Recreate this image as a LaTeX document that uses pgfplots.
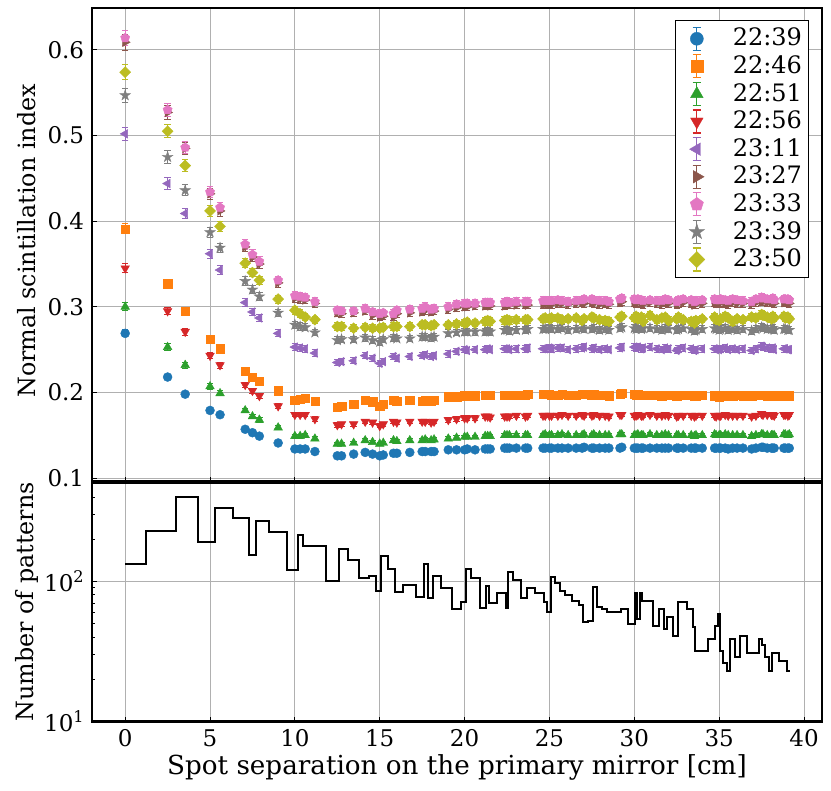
\documentclass[border=0pt]{standalone}
\usepackage{fontspec}
\setmainfont{DejaVu Serif}
\usepackage{pgfplots}
\pgfplotsset{compat=1.18}
\usepackage{pgfplotstable}
\usetikzlibrary{plotmarks}

\definecolor{cB}{HTML}{1F77B4}
\definecolor{cO}{HTML}{FF7F0E}
\definecolor{cG}{HTML}{2CA02C}
\definecolor{cR}{HTML}{D62728}
\definecolor{cP}{HTML}{9467BD}
\definecolor{cBr}{HTML}{8C564B}
\definecolor{cPk}{HTML}{E377C2}
\definecolor{cGr}{HTML}{7F7F7F}
\definecolor{cOl}{HTML}{BCBD22}
\definecolor{gridc}{HTML}{B0B0B0}

\newcommand\ff{\fontsize{23bp}{27bp}\selectfont}
\newcommand\fx{\fontsize{26.2bp}{31bp}\selectfont}
\newcommand\fy{\fontsize{23.8bp}{28bp}\selectfont}
\newcommand\fg{\fontsize{24bp}{28bp}\selectfont}

\pgfdeclareplotmark{fstar}{%
  \pgfpathmoveto{\pgfpointpolar{90}{\pgfplotmarksize}}%
  \pgfpathlineto{\pgfpointpolar{126}{0.382\pgfplotmarksize}}%
  \pgfpathlineto{\pgfpointpolar{162}{\pgfplotmarksize}}%
  \pgfpathlineto{\pgfpointpolar{198}{0.382\pgfplotmarksize}}%
  \pgfpathlineto{\pgfpointpolar{234}{\pgfplotmarksize}}%
  \pgfpathlineto{\pgfpointpolar{270}{0.382\pgfplotmarksize}}%
  \pgfpathlineto{\pgfpointpolar{306}{\pgfplotmarksize}}%
  \pgfpathlineto{\pgfpointpolar{342}{0.382\pgfplotmarksize}}%
  \pgfpathlineto{\pgfpointpolar{18}{\pgfplotmarksize}}%
  \pgfpathlineto{\pgfpointpolar{54}{0.382\pgfplotmarksize}}%
  \pgfpathclose\pgfusepathqfillstroke}

\pgfplotstableread{
x cnt b o g r p br pk gr ol
0.000 134 0.269 0.391 0.300 0.345 0.502 0.609 0.614 0.547 0.574
2.500 229 0.218 0.327 0.253 0.295 0.444 0.527 0.530 0.475 0.505
3.536 402 0.198 0.295 0.232 0.271 0.409 0.485 0.486 0.436 0.465
5.000 190 0.179 0.262 0.207 0.243 0.362 0.432 0.434 0.387 0.412
5.590 335 0.174 0.251 0.199 0.232 0.343 0.412 0.416 0.369 0.394
7.071 284 0.157 0.225 0.179 0.209 0.305 0.370 0.373 0.330 0.351
7.500 154 0.153 0.218 0.172 0.202 0.294 0.358 0.361 0.320 0.340
7.906 270 0.149 0.213 0.168 0.196 0.287 0.350 0.353 0.312 0.331
9.014 227 0.141 0.202 0.159 0.184 0.269 0.328 0.331 0.293 0.309
10.000 121 0.134 0.191 0.149 0.174 0.253 0.310 0.313 0.279 0.296
10.308 214 0.134 0.192 0.149 0.174 0.252 0.309 0.312 0.277 0.292
10.607 180 0.134 0.193 0.150 0.174 0.251 0.308 0.311 0.276 0.288
11.180 180 0.131 0.190 0.146 0.169 0.246 0.304 0.306 0.270 0.285
12.500 100 0.126 0.183 0.140 0.162 0.235 0.293 0.296 0.261 0.277
12.748 170 0.126 0.184 0.140 0.163 0.236 0.292 0.295 0.262 0.277
13.463 143 0.128 0.186 0.141 0.163 0.237 0.293 0.295 0.262 0.275
14.142 106 0.130 0.191 0.144 0.166 0.243 0.295 0.298 0.264 0.276
14.577 109 0.128 0.189 0.142 0.165 0.240 0.290 0.294 0.261 0.275
15.000 85 0.126 0.184 0.140 0.161 0.234 0.288 0.292 0.259 0.275
15.207 151 0.127 0.186 0.141 0.163 0.236 0.289 0.293 0.262 0.276
15.811 122 0.129 0.191 0.144 0.166 0.242 0.288 0.292 0.264 0.277
16.008 84 0.129 0.190 0.143 0.165 0.240 0.292 0.296 0.263 0.277
16.771 95 0.130 0.191 0.144 0.166 0.242 0.293 0.297 0.263 0.277
17.500 78 0.131 0.190 0.144 0.166 0.243 0.294 0.298 0.265 0.279
17.678 134 0.131 0.191 0.145 0.166 0.244 0.296 0.300 0.265 0.279
18.028 76 0.131 0.190 0.144 0.165 0.242 0.294 0.297 0.264 0.278
18.200 110 0.131 0.191 0.145 0.166 0.243 0.295 0.298 0.265 0.279
19.039 90 0.133 0.195 0.146 0.168 0.245 0.297 0.300 0.269 0.279
19.526 64 0.133 0.195 0.147 0.169 0.248 0.299 0.303 0.270 0.280
20.000 71 0.133 0.196 0.148 0.170 0.250 0.300 0.304 0.271 0.281
20.156 123 0.134 0.196 0.148 0.170 0.249 0.300 0.304 0.271 0.282
20.616 105 0.133 0.196 0.148 0.170 0.250 0.301 0.304 0.271 0.281
21.213 65 0.134 0.197 0.149 0.172 0.250 0.301 0.305 0.271 0.283
21.360 92 0.134 0.197 0.149 0.172 0.251 0.302 0.305 0.272 0.284
21.506 70 0.134 0.197 0.149 0.171 0.250 0.301 0.305 0.271 0.283
22.361 82 0.135 0.197 0.150 0.172 0.251 0.301 0.305 0.273 0.284
22.500 65 0.135 0.197 0.150 0.172 0.251 0.302 0.306 0.273 0.285
22.638 117 0.135 0.197 0.150 0.172 0.250 0.302 0.305 0.272 0.284
23.049 103 0.135 0.197 0.150 0.173 0.251 0.302 0.306 0.273 0.285
23.585 76 0.135 0.197 0.150 0.172 0.251 0.303 0.306 0.273 0.285
23.717 89 0.135 0.198 0.150 0.173 0.252 0.302 0.306 0.274 0.285
24.622 82 0.135 0.198 0.150 0.173 0.251 0.303 0.307 0.274 0.286
24.749 71 0.135 0.198 0.151 0.173 0.251 0.303 0.307 0.274 0.287
25.000 60 0.135 0.198 0.150 0.173 0.252 0.304 0.307 0.275 0.286
25.125 108 0.135 0.197 0.150 0.173 0.251 0.303 0.307 0.274 0.287
25.495 97 0.135 0.197 0.150 0.173 0.252 0.304 0.308 0.274 0.287
25.739 85 0.135 0.198 0.151 0.174 0.252 0.304 0.307 0.275 0.285
26.101 80 0.135 0.197 0.150 0.173 0.250 0.303 0.306 0.273 0.286
26.575 72 0.135 0.197 0.150 0.173 0.251 0.304 0.307 0.274 0.287
26.926 68 0.135 0.198 0.150 0.174 0.252 0.305 0.308 0.275 0.284
27.042 51 0.136 0.198 0.151 0.173 0.253 0.304 0.309 0.274 0.286
27.500 52 0.135 0.197 0.150 0.173 0.251 0.305 0.309 0.274 0.288
27.613 91 0.135 0.198 0.151 0.174 0.252 0.304 0.308 0.275 0.287
27.951 66 0.135 0.197 0.150 0.173 0.250 0.303 0.307 0.273 0.285
28.284 64 0.135 0.197 0.150 0.173 0.251 0.304 0.307 0.274 0.284
28.504 60 0.135 0.196 0.150 0.172 0.250 0.303 0.306 0.273 0.283
29.155 60 0.135 0.198 0.151 0.174 0.252 0.305 0.309 0.275 0.288
29.262 64 0.136 0.199 0.151 0.174 0.253 0.306 0.310 0.276 0.289
30.000 50 0.135 0.198 0.150 0.173 0.253 0.305 0.309 0.275 0.287
30.104 82 0.135 0.197 0.150 0.173 0.252 0.304 0.308 0.274 0.289
30.208 54 0.135 0.198 0.151 0.174 0.253 0.305 0.309 0.276 0.286
30.414 82 0.135 0.197 0.150 0.173 0.251 0.304 0.308 0.274 0.288
30.516 73 0.135 0.197 0.150 0.173 0.252 0.303 0.307 0.275 0.283
30.923 73 0.135 0.197 0.151 0.174 0.253 0.305 0.308 0.275 0.290
31.325 48 0.135 0.197 0.150 0.173 0.251 0.304 0.307 0.274 0.285
31.623 64 0.135 0.196 0.150 0.173 0.250 0.303 0.307 0.273 0.287
31.820 46 0.135 0.197 0.151 0.174 0.252 0.305 0.309 0.275 0.288
32.016 56 0.135 0.197 0.150 0.173 0.251 0.304 0.308 0.274 0.284
32.500 41 0.135 0.196 0.150 0.172 0.249 0.303 0.306 0.273 0.286
32.596 71 0.135 0.197 0.150 0.173 0.251 0.304 0.308 0.274 0.288
32.882 71 0.135 0.197 0.150 0.173 0.252 0.305 0.309 0.275 0.285
33.354 64 0.135 0.197 0.150 0.173 0.251 0.304 0.308 0.274 0.283
33.541 47 0.135 0.196 0.149 0.172 0.249 0.302 0.306 0.272 0.281
33.634 32 0.135 0.196 0.150 0.173 0.250 0.303 0.307 0.273 0.284
34.004 32 0.135 0.197 0.150 0.173 0.251 0.304 0.308 0.274 0.286
34.731 39 0.135 0.196 0.151 0.173 0.251 0.305 0.309 0.275 0.288
34.821 48 0.135 0.196 0.150 0.172 0.250 0.304 0.308 0.274 0.285
35.000 59 0.135 0.195 0.150 0.173 0.250 0.304 0.308 0.273 0.284
35.089 32 0.135 0.196 0.150 0.173 0.251 0.305 0.309 0.274 0.286
35.355 26 0.135 0.197 0.151 0.174 0.252 0.304 0.308 0.275 0.289
35.532 23 0.134 0.196 0.150 0.173 0.250 0.303 0.307 0.273 0.287
35.795 39 0.135 0.196 0.150 0.173 0.251 0.305 0.309 0.274 0.283
36.056 29 0.135 0.197 0.150 0.173 0.250 0.304 0.308 0.273 0.286
36.401 41 0.135 0.196 0.150 0.173 0.251 0.304 0.307 0.274 0.285
36.912 31 0.134 0.196 0.149 0.172 0.249 0.303 0.306 0.272 0.288
37.165 31 0.135 0.197 0.150 0.173 0.251 0.305 0.309 0.274 0.287
37.500 39 0.136 0.197 0.151 0.175 0.254 0.306 0.311 0.276 0.291
37.583 35 0.136 0.197 0.151 0.174 0.253 0.306 0.310 0.275 0.290
37.832 29 0.135 0.196 0.150 0.174 0.252 0.305 0.309 0.274 0.288
38.079 23 0.135 0.196 0.150 0.174 0.251 0.305 0.309 0.274 0.286
38.161 31 0.135 0.197 0.150 0.174 0.252 0.306 0.310 0.275 0.289
38.243 31 0.135 0.196 0.150 0.173 0.250 0.304 0.308 0.273 0.287
38.810 27 0.135 0.196 0.151 0.174 0.251 0.305 0.309 0.274 0.289
38.891 27 0.135 0.197 0.151 0.174 0.251 0.305 0.309 0.274 0.287
39.051 23 0.135 0.196 0.150 0.173 0.250 0.305 0.309 0.273 0.288
39.131 23 0.135 0.196 0.151 0.174 0.250 0.304 0.308 0.273 0.286
}\data

\pgfplotsset{
  ebleg/.style={legend image code/.code={
    \path[draw=none,fill=none] (0bp,-13.8bp) rectangle (45.5bp,13.8bp);
    \draw[##1,mark=none,line width=1.2bp,solid] (16.5bp,-11.5bp) -- (16.5bp,11.5bp);
    \draw[##1,mark=none,line width=1.2bp,solid] (12.3bp,-11.5bp) -- (20.7bp,-11.5bp) (12.3bp,11.5bp) -- (20.7bp,11.5bp);
    \draw[##1,every mark/.append style={scale=1.45}] plot coordinates {(16.5bp,0bp)};
  }},
  ser/.style n args={3}{only marks, color=#1, solid, mark=#2,
    mark options={solid, fill=#1, draw=#1, line width=0.4bp, #3},
    error bars/y dir=both,
    error bars/y fixed relative=0.015,
    error bars/error bar style={line width=1bp, color=#1, solid},
    error bars/error mark options={rotate=90, mark size=3.2bp, line width=1bp, color=#1, solid},
    ebleg},
  myaxis/.style={scale only axis, width=730bp,
    xmin=-1.955, xmax=41.06,
    tick pos=left, tick align=inside,
    major tick length=5bp, minor tick length=3bp,
    every tick/.style={black, line width=1bp},
    axis line style={line width=2.2bp},
    grid=major, major grid style={gridc, line width=1bp},
    tick label style={font=\ff},
    xtick={0,5,10,15,20,25,30,35,40},
  },
}

\begin{document}
\ff
\begin{tikzpicture}
\useasboundingbox (-92bp,8bp) rectangle (739bp,-783bp);
\begin{axis}[myaxis, name=top, at={(0,0)}, anchor=north west,
  height=473.5bp, ymin=0.096, ymax=0.649,
  xticklabels={},
  ytick={0.1,0.2,0.3,0.4,0.5,0.6},
  yticklabels={0.1,0.2,0.3,0.4,0.5,0.6},
  ylabel={Normal scintillation index},
  every axis y label/.style={at={(axis description cs:0,0.508)}, xshift=-65bp, rotate=90, anchor=center, font=\fy},
  legend cell align=left,
  legend style={at={(rel axis cs:0.9822,0.9747)}, anchor=north east, font=\fg,
    draw=black, line width=1bp, fill=white, inner xsep=4.5bp, inner ysep=4.5bp,
    row sep=0bp, column sep=5bp,
    nodes={inner xsep=2bp, inner ysep=0bp, font=\fg}},
]
\addplot[ser={cB}{*}{mark size=4.5bp}] table[x=x,y=b]{\data};
\addlegendentry{22:39}
\addplot[ser={cO}{square*}{mark size=4.2bp}] table[x=x,y=o]{\data};
\addlegendentry{22:46}
\addplot[ser={cG}{triangle*}{mark size=5bp}] table[x=x,y=g]{\data};
\addlegendentry{22:51}
\addplot[ser={cR}{triangle*}{mark size=5bp, rotate=180}] table[x=x,y=r]{\data};
\addlegendentry{22:56}
\addplot[ser={cP}{triangle*}{mark size=5bp, rotate=90}] table[x=x,y=p]{\data};
\addlegendentry{23:11}
\addplot[ser={cBr}{triangle*}{mark size=5bp, rotate=-90}] table[x=x,y=br]{\data};
\addlegendentry{23:27}
\addplot[ser={cPk}{pentagon*}{mark size=4.8bp}] table[x=x,y=pk]{\data};
\addlegendentry{23:33}
\addplot[ser={cGr}{fstar}{mark size=5.6bp}] table[x=x,y=gr]{\data};
\addlegendentry{23:39}
\addplot[ser={cOl}{square*}{mark size=3.9bp, rotate=45}] table[x=x,y=ol]{\data};
\addlegendentry{23:50}
\end{axis}
\begin{axis}[myaxis, at={(top.south west)}, anchor=north west, yshift=-1bp,
  height=239bp, ymode=log, ymin=10, ymax=508,
  ytick={10,100}, yticklabels={10\textsuperscript{1},10\textsuperscript{2}},
  minor ytick={20,30,40,50,60,70,80,90,200,300,400,500},
  xticklabels={0,5,10,15,20,25,30,35,40},
  xlabel={Spot separation on the primary mirror [cm]},
  ylabel={Number of patterns},
  every axis y label/.style={at={(axis description cs:0,0.5)}, xshift=-65bp, rotate=90, anchor=center, font=\fy},
  every axis x label/.style={at={(axis description cs:0.5,0)}, yshift=-46bp, anchor=center, font=\fx},
]
\addplot[const plot mark mid, black, line width=2bp, line join=miter] table[x=x,y=cnt]{\data};
\end{axis}
\end{tikzpicture}
\end{document}
